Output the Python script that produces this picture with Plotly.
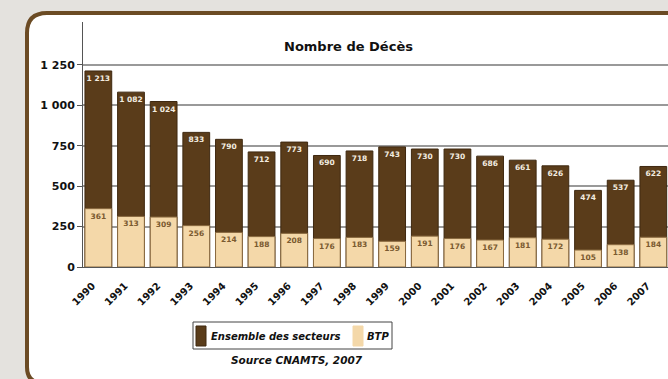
import plotly.graph_objects as go

years = [str(y) for y in range(1990, 2008)]
ensemble = [1213, 1082, 1024, 833, 790, 712, 773, 690, 718, 743, 730, 730, 686, 661, 626, 474, 537, 622]
btp = [361, 313, 309, 256, 214, 188, 208, 176, 183, 159, 191, 176, 167, 181, 172, 105, 138, 184]
y_ticks = [0, 250, 500, 750, 1000, 1250]
series_names = ["Ensemble des secteurs", "BTP"]

DARK = "#5a3c1a"
LIGHT = "#f4d8a9"
FRAME = "#6b4b24"
FONT = "DejaVu Sans"

W, H = 668, 379
ML, MR, MT, MB = 83, 0, 22, 112
PW = W - ML - MR
PH = H - MT - MB


def px(x):
    return (x - ML) / PW


def py(y):
    return (H - MB - y) / PH


fig = go.Figure()
fig.add_trace(go.Bar(
    x=years, y=ensemble, name=series_names[0],
    marker=dict(color=DARK, line=dict(color="#3e2810", width=1)),
    width=0.82,
    texttemplate="%{y:,}", textposition="inside", insidetextanchor="end",
    constraintext="none", textangle=0,
    textfont=dict(family=FONT, size=7.5, color="#f3ece0", weight="bold"),
))
fig.add_trace(go.Bar(
    x=years, y=btp, name=series_names[1],
    marker=dict(color=LIGHT, line=dict(color="#8a6a40", width=1)),
    width=0.82,
    texttemplate="%{y:,}", textposition="inside", insidetextanchor="end",
    constraintext="none", textangle=0,
    textfont=dict(family=FONT, size=7.5, color="#7a5a30", weight="bold"),
))

# frame: white rounded panel with brown border
x0, x1 = px(27), px(720)
yt, yb = py(13), py(383)
rx, ry = 20 / PW, 20 / PH
rbx, rby = 16 / PW, 16 / PH
path = (f"M {x0+rx} {yt} L {x1} {yt} L {x1} {yb} L {x0+rbx} {yb} "
        f"Q {x0} {yb} {x0} {yb+rby} L {x0} {yt-ry} Q {x0} {yt} {x0+rx} {yt} Z")
fig.add_shape(type="path", path=path, xref="paper", yref="paper",
              fillcolor="white", line=dict(color=FRAME, width=4), layer="below")

# custom legend
fig.add_shape(type="rect", xref="paper", yref="paper",
              x0=px(193), x1=px(392), y0=py(349), y1=py(322),
              fillcolor="white", line=dict(color="#444", width=1))
fig.add_shape(type="rect", xref="paper", yref="paper",
              x0=px(196), x1=px(206), y0=py(346), y1=py(326),
              fillcolor=DARK, line=dict(color="#3e2810", width=1))
fig.add_shape(type="rect", xref="paper", yref="paper",
              x0=px(353), x1=px(363), y0=py(346), y1=py(326),
              fillcolor=LIGHT, line=dict(color=LIGHT, width=1))
legend_font = dict(family=FONT, size=10, color="#111", weight="bold", style="italic")
fig.add_annotation(text=series_names[0], x=px(209), y=py(336), xref="paper", yref="paper",
                   xanchor="left", yanchor="middle", showarrow=False, font=legend_font)
fig.add_annotation(text=series_names[1], x=px(365), y=py(336), xref="paper", yref="paper",
                   xanchor="left", yanchor="middle", showarrow=False, font=legend_font)

fig.add_annotation(text="Nombre de Décès", x=px(348), y=py(37), xref="paper", yref="paper",
                   showarrow=False, font=dict(family=FONT, size=13, color="#111", weight="bold"))
fig.add_annotation(text="Source CNAMTS, 2007", x=px(297), y=py(368), xref="paper", yref="paper",
                   showarrow=False,
                   font=dict(family=FONT, size=10.5, color="#111", weight="bold", style="italic"))

fig.update_layout(
    width=W, height=H,
    margin=dict(l=ML, r=MR, t=MT, b=MB),
    paper_bgcolor="#e4e2de",
    plot_bgcolor="rgba(0,0,0,0)",
    barmode="overlay",
    separators=", ",
    showlegend=False,
    font=dict(family=FONT, color="#111"),
)
fig.update_xaxes(
    type="category", range=[-0.47, 17.45],
    tickangle=-45, tickfont=dict(family=FONT, size=10, weight="bold", color="#111"),
    ticklabelstandoff=8, ticklabelshift=-6,
    showline=True, linecolor="#555", linewidth=1, ticks="",
    showgrid=False, fixedrange=True,
)
fig.update_yaxes(
    range=[0, 1516], tickvals=y_ticks, tickformat=",",
    tickfont=dict(family=FONT, size=11, weight="bold", color="#111"),
    showline=True, linecolor="#555", linewidth=1,
    ticks="outside", ticklen=5, tickcolor="#555",
    showgrid=True, gridcolor="#999", gridwidth=2,
    zeroline=False, fixedrange=True,
)

fig.write_html("out.html", config={"displayModeBar": False},
               post_script="document.body.style.margin='0';document.body.style.overflow='hidden';")
